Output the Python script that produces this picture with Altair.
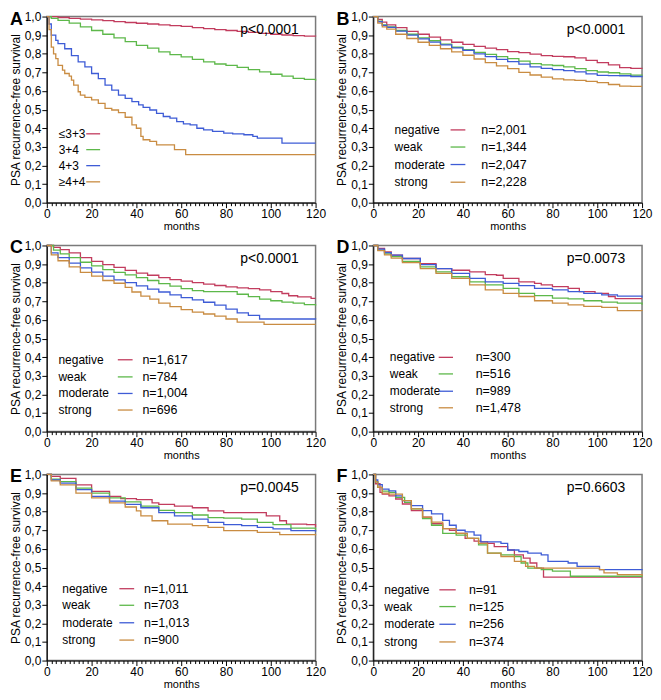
import altair as alt
import pandas as pd

FONT = "Liberation Sans"
COLORS = ["#c23c5e", "#5db84a", "#3e5cd6", "#c98c42"]
W, H = 270, 187

GROUPS = ["negative", "weak", "moderate", "strong"]
A_GROUPS = ["≤3+3", "3+4", "4+3", "≥4+4"]

# ---------------- Panel A (Gleason) ----------------
A1_T = [0, 5, 10, 15, 20, 25, 30, 35, 40, 45, 50, 55, 60, 65, 70, 75, 80, 85, 90, 95, 100, 105, 110, 115, 120]
A1_S = [1.0, 0.995, 0.99, 0.986, 0.982, 0.978, 0.973, 0.968, 0.964, 0.96, 0.955, 0.951, 0.947, 0.941,
        0.935, 0.93, 0.925, 0.92, 0.915, 0.91, 0.905, 0.901, 0.898, 0.895, 0.893]
A2_T = [0, 2, 5, 10, 15, 20, 25, 30, 35, 40, 45, 50, 55, 60, 65, 70, 75, 80, 85, 90, 95, 100, 105, 110, 115, 120]
A2_S = [1.0, 0.99, 0.98, 0.965, 0.945, 0.925, 0.905, 0.885, 0.865, 0.845, 0.83, 0.81, 0.795, 0.783, 0.77,
        0.756, 0.745, 0.738, 0.727, 0.715, 0.703, 0.69, 0.68, 0.668, 0.663, 0.655]
A3_T = [0, 1, 2, 4, 5, 8, 11, 14, 17, 20, 23, 26, 29, 32, 35, 38, 41, 43, 46, 49, 52, 55, 58, 61, 64, 67,
        70, 74, 79, 83, 88, 92, 94, 105, 120]
A3_S = [1.0, 0.96, 0.9, 0.872, 0.854, 0.827, 0.79, 0.756, 0.73, 0.694, 0.667, 0.632, 0.605, 0.578, 0.56,
        0.543, 0.525, 0.512, 0.498, 0.48, 0.463, 0.454, 0.436, 0.423, 0.418, 0.4, 0.391, 0.383, 0.374,
        0.37, 0.365, 0.356, 0.347, 0.32, 0.32]
A4_T = [0, 1, 2, 3, 4, 5, 7, 8, 10, 11, 12, 14, 15, 17, 20, 23, 26, 29, 32, 35, 38, 40, 42, 43, 46, 49,
        57, 62, 120]
A4_S = [1.0, 0.93, 0.836, 0.8, 0.774, 0.738, 0.712, 0.694, 0.68, 0.658, 0.632, 0.596, 0.578, 0.566, 0.552,
        0.534, 0.507, 0.498, 0.484, 0.459, 0.418, 0.4, 0.356, 0.338, 0.329, 0.311, 0.285, 0.258, 0.258]

# ---------------- Panel B ----------------
B_T = [0, 2, 4, 6, 10, 15, 20, 25, 30, 35, 40, 45, 50, 55, 60, 65, 70, 75, 80, 85, 90, 95, 100, 105, 110, 115, 120]
B1_S = [1.0, 0.985, 0.97, 0.955, 0.94, 0.92, 0.905, 0.89, 0.875, 0.862, 0.85, 0.84, 0.83, 0.822, 0.812,
        0.806, 0.798, 0.79, 0.786, 0.784, 0.778, 0.765, 0.752, 0.74, 0.726, 0.722, 0.72]
B2_S = [1.0, 0.975, 0.955, 0.945, 0.925, 0.905, 0.885, 0.87, 0.852, 0.835, 0.822, 0.808, 0.797, 0.785,
        0.774, 0.76, 0.747, 0.74, 0.737, 0.73, 0.72, 0.71, 0.702, 0.698, 0.692, 0.685, 0.682]
B3_S = [1.0, 0.972, 0.953, 0.942, 0.922, 0.9, 0.88, 0.863, 0.848, 0.832, 0.818, 0.8, 0.785, 0.77, 0.758,
        0.744, 0.73, 0.722, 0.715, 0.71, 0.703, 0.692, 0.684, 0.683, 0.682, 0.678, 0.674]
B4_S = [1.0, 0.965, 0.945, 0.932, 0.905, 0.882, 0.862, 0.845, 0.827, 0.81, 0.792, 0.772, 0.752, 0.735,
        0.72, 0.7, 0.686, 0.675, 0.665, 0.66, 0.657, 0.652, 0.645, 0.635, 0.626, 0.625, 0.625]

# ---------------- Panel C ----------------
C1_T = [0, 3, 6, 10, 15, 20, 25, 30, 35, 40, 45, 50, 55, 60, 65, 70, 75, 80, 85, 90, 95, 100, 105, 108, 112, 118, 120]
C1_S = [1.0, 0.99, 0.978, 0.96, 0.935, 0.915, 0.897, 0.882, 0.866, 0.852, 0.84, 0.827, 0.817, 0.808, 0.8,
        0.792, 0.785, 0.778, 0.772, 0.768, 0.762, 0.752, 0.742, 0.73, 0.724, 0.716, 0.716]
C2_T = [0, 3, 6, 10, 15, 20, 25, 30, 35, 40, 45, 50, 55, 60, 65, 70, 85, 90, 95, 100, 105, 110, 115, 120]
C2_S = [1.0, 0.975, 0.955, 0.935, 0.91, 0.89, 0.87, 0.855, 0.842, 0.827, 0.812, 0.795, 0.782, 0.768, 0.758,
        0.752, 0.738, 0.725, 0.712, 0.703, 0.696, 0.69, 0.682, 0.676]
C3_T = [0, 2, 5, 10, 15, 20, 25, 30, 35, 40, 45, 50, 55, 60, 65, 70, 75, 80, 85, 90, 95, 120]
C3_S = [1.0, 0.96, 0.935, 0.905, 0.88, 0.857, 0.835, 0.815, 0.8, 0.783, 0.765, 0.75, 0.735, 0.72, 0.708,
        0.695, 0.68, 0.658, 0.638, 0.625, 0.605, 0.603]
C4_T = [0, 2, 5, 10, 15, 20, 25, 30, 35, 38, 42, 46, 50, 55, 60, 65, 70, 75, 80, 85, 97, 120]
C4_S = [1.0, 0.95, 0.918, 0.885, 0.855, 0.835, 0.812, 0.797, 0.775, 0.75, 0.728, 0.712, 0.69, 0.672, 0.655,
        0.642, 0.632, 0.62, 0.605, 0.588, 0.576, 0.576]

# ---------------- Panel D ----------------
D1_T = [0, 2, 5, 8, 13, 21, 28, 35, 43, 50, 55, 58, 65, 72, 75, 80, 87, 92, 99, 105, 108, 120]
D1_S = [1.0, 0.985, 0.965, 0.948, 0.93, 0.903, 0.876, 0.867, 0.858, 0.844, 0.84, 0.823, 0.805, 0.796,
        0.788, 0.779, 0.77, 0.752, 0.743, 0.726, 0.715, 0.715]
D_T = [0, 2, 5, 8, 13, 21, 28, 35, 43, 50, 58, 65, 72, 80, 87, 94, 102, 109, 120]
D3_S = [1.0, 0.98, 0.962, 0.948, 0.93, 0.897, 0.876, 0.85, 0.823, 0.805, 0.796, 0.784, 0.77, 0.761, 0.752,
        0.743, 0.735, 0.728, 0.72]
D2_S = [1.0, 0.975, 0.955, 0.94, 0.915, 0.885, 0.858, 0.832, 0.805, 0.788, 0.77, 0.743, 0.731, 0.717,
        0.713, 0.703, 0.696, 0.69, 0.682]
D4_S = [1.0, 0.972, 0.95, 0.932, 0.908, 0.876, 0.85, 0.823, 0.788, 0.761, 0.743, 0.726, 0.703, 0.69,
        0.681, 0.673, 0.667, 0.65, 0.648]

# ---------------- Panel E ----------------
E1_T = [0, 2, 6, 13, 20, 28, 33, 40, 47, 50, 57, 65, 72, 79, 98, 104, 107, 116, 120]
E1_S = [1.0, 0.99, 0.979, 0.944, 0.909, 0.882, 0.87, 0.865, 0.847, 0.839, 0.83, 0.821, 0.804, 0.795,
        0.777, 0.751, 0.733, 0.73, 0.716]
E_T = [0, 2, 6, 13, 20, 28, 35, 42, 50, 57, 65, 72, 79, 87, 94, 101, 109, 120]
E2_S = [1.0, 0.975, 0.961, 0.926, 0.9, 0.874, 0.853, 0.83, 0.807, 0.795, 0.782, 0.768, 0.765, 0.76, 0.742,
        0.73, 0.712, 0.698]
E3_S = [1.0, 0.97, 0.953, 0.918, 0.882, 0.856, 0.839, 0.821, 0.795, 0.777, 0.76, 0.742, 0.73, 0.725,
        0.716, 0.707, 0.698, 0.692]
E4_T = [0, 2, 6, 13, 20, 28, 35, 40, 42, 47, 54, 65, 72, 79, 94, 104, 120]
E4_S = [1.0, 0.965, 0.944, 0.9, 0.874, 0.847, 0.825, 0.804, 0.777, 0.751, 0.733, 0.725, 0.716, 0.698,
        0.689, 0.677, 0.672]

# ---------------- Panel F ----------------
F1_T = [0, 1, 3, 4, 7, 10, 13, 17, 22, 26, 31, 34, 37, 41, 45, 48, 51, 54, 60, 63, 67, 70, 73, 76, 120]
F1_S = [1.0, 0.95, 0.903, 0.894, 0.885, 0.868, 0.841, 0.806, 0.771, 0.735, 0.709, 0.7, 0.683, 0.656,
        0.642, 0.638, 0.63, 0.612, 0.594, 0.568, 0.55, 0.524, 0.497, 0.448, 0.448]
F2_T = [0, 1, 2, 4, 7, 10, 14, 17, 22, 26, 31, 37, 42, 47, 51, 57, 63, 66, 69, 75, 80, 88, 120]
F2_S = [1.0, 0.96, 0.93, 0.91, 0.903, 0.877, 0.85, 0.815, 0.762, 0.727, 0.683, 0.674, 0.656, 0.621, 0.577,
        0.568, 0.559, 0.524, 0.497, 0.489, 0.48, 0.453, 0.45]
F3_T = [0, 1, 2, 4, 7, 10, 13, 17, 22, 26, 31, 34, 37, 41, 45, 48, 57, 60, 65, 69, 75, 78, 87, 91, 101, 120]
F3_S = [1.0, 0.97, 0.945, 0.921, 0.912, 0.885, 0.859, 0.832, 0.806, 0.788, 0.753, 0.727, 0.7, 0.691, 0.674,
        0.638, 0.63, 0.594, 0.586, 0.577, 0.568, 0.533, 0.524, 0.506, 0.489, 0.485]
F4_T = [0, 1, 2, 4, 7, 13, 17, 22, 26, 31, 37, 42, 47, 51, 57, 63, 68, 72, 101, 103, 109, 120]
F4_S = [1.0, 0.96, 0.93, 0.9, 0.894, 0.859, 0.815, 0.771, 0.744, 0.709, 0.683, 0.656, 0.63, 0.577, 0.559,
        0.533, 0.506, 0.497, 0.489, 0.471, 0.462, 0.455]

N_B = ["n=2,001", "n=1,344", "n=2,047", "n=2,228"]
N_C = ["n=1,617", "n=784", "n=1,004", "n=696"]
N_D = ["n=300", "n=516", "n=989", "n=1,478"]
N_E = ["n=1,011", "n=703", "n=1,013", "n=900"]
N_F = ["n=91", "n=125", "n=256", "n=374"]

P_VALUES = ["p<0,0001", "p<0.0001", "p<0.0001", "p=0.0073", "p=0.0045", "p=0.6603"]

X_TICKS = list(range(0, 121, 2))
Y_TICKS = [round(i / 10, 1) for i in range(11)]


def x_axis():
    return alt.Axis(
        title="months", values=X_TICKS,
        labelExpr="datum.value % 20 == 0 ? datum.label : ''",
        tickSize={"condition": {"test": "datum.value % 20 == 0", "value": 5}, "value": 3},
        grid=False, labelOverlap=False, labelFlush=False, labelPadding=1,
        labelFontSize=12, titleFontSize=11, titlePadding=1,
        domainColor="#000000", tickColor="#000000", labelColor="#000000", titleColor="#000000",
        titleFontWeight="normal", labelFont=FONT, titleFont=FONT,
    )


def y_axis():
    return alt.Axis(
        title="PSA recurrence-free survival", values=Y_TICKS,
        labelExpr="replace(format(datum.value, '.1f'), '.', ',')",
        tickSize=5, grid=False, labelOverlap=False, labelBound=False, labelFlush=False, labelPadding=1,
        labelFontSize=12, titleFontSize=12, titlePadding=2,
        domainColor="#000000", tickColor="#000000", labelColor="#000000", titleColor="#000000",
        titleFontWeight="normal", labelFont=FONT, titleFont=FONT,
    )


XS = alt.Scale(domain=[0, 120], nice=False, zero=True)
YS = alt.Scale(domain=[0, 1], nice=False)


def X(field):
    return alt.X(field, scale=XS, axis=x_axis())


def Y(field):
    return alt.Y(field, scale=YS, axis=y_axis())


def panel(letter, names, ts, ss, ns, pval, lx, lr, nx, rows):
    recs = []
    for name, t, s in zip(names, ts, ss):
        for ti, si in zip(t, s):
            recs.append({"group": name, "t": ti, "s": si})
    df = pd.DataFrame(recs)
    color = alt.Color("group:N", scale=alt.Scale(domain=names, range=COLORS), legend=None)

    lines = alt.Chart(df).mark_line(interpolate="step-after", strokeWidth=1.3).encode(
        x=X("t:Q"), y=Y("s:Q"), color=color, order="t:Q",
    )
    leg = pd.DataFrame({
        "group": names, "ly": rows, "lx": [lx] * 4, "lx1": [lr[0]] * 4, "lx2": [lr[1]] * 4,
        "nx": [nx] * 4, "n": ns if ns else [""] * 4,
    })
    leg_text = alt.Chart(leg).mark_text(align="left", baseline="middle", fontSize=12, color="#000").encode(
        x=X("lx:Q"), y=Y("ly:Q"), text="group:N")
    leg_rule = alt.Chart(leg).mark_rule(strokeWidth=1.3).encode(
        x=X("lx1:Q"), x2="lx2:Q", y=Y("ly:Q"), color=color)
    layers = [lines, leg_text, leg_rule]
    if ns:
        layers.append(alt.Chart(leg).mark_text(align="left", baseline="middle", fontSize=12.5, color="#000").encode(
            x=X("nx:Q"), y=Y("ly:Q"), text="n:N"))
    ptxt = alt.Chart(pd.DataFrame({"p": [pval], "px": [112.5], "py": [0.925]})).mark_text(
        align="right", baseline="middle", fontSize=14, color="#000").encode(
        x=X("px:Q"), y=Y("py:Q"), text="p:N")
    let = alt.Chart(pd.DataFrame({"L": [letter]})).mark_text(
        align="left", baseline="middle", fontSize=18, fontWeight="bold", color="#000").encode(
        x=alt.value(-37), y=alt.value(3), text="L:N")
    layers += [ptxt, let]
    return alt.layer(*layers).properties(width=W, height=H)


pA = panel("A", A_GROUPS, [A1_T, A2_T, A3_T, A4_T], [A1_S, A2_S, A3_S, A4_S], None, P_VALUES[0],
           5.3, (17.6, 23.8), 0, [0.37, 0.285, 0.199, 0.112])
pB = panel("B", GROUPS, [B_T] * 4, [B1_S, B2_S, B3_S, B4_S], N_B, P_VALUES[1],
           9.5, (34.5, 41.1), 48.2, [0.391, 0.299, 0.205, 0.11])
pC = panel("C", GROUPS, [C1_T, C2_T, C3_T, C4_T], [C1_S, C2_S, C3_S, C4_S], N_C, P_VALUES[2],
           5.2, (31.7, 38.3), 42.7, [0.386, 0.294, 0.205, 0.116])
pD = panel("D", GROUPS, [D1_T, D_T, D_T, D_T], [D1_S, D2_S, D3_S, D4_S], N_D, P_VALUES[3],
           7.4, (29.2, 35.6), 45.7, [0.399, 0.31, 0.217, 0.128])
pE = panel("E", GROUPS, [E1_T, E_T, E_T, E4_T], [E1_S, E2_S, E3_S, E4_S], N_E, P_VALUES[4],
           6.9, (32.4, 39.0), 43.4, [0.386, 0.297, 0.203, 0.11])
pF = panel("F", GROUPS, [F1_T, F2_T, F3_T, F4_T], [F1_S, F2_S, F3_S, F4_S], N_F, P_VALUES[5],
           4.9, (29.5, 36.8), 42.7, [0.38, 0.29, 0.195, 0.1])

chart = alt.vconcat(
    alt.hconcat(pA, pB, spacing=8),
    alt.hconcat(pC, pD, spacing=8),
    alt.hconcat(pE, pF, spacing=8),
    spacing=6,
).properties(padding=0).configure_view(
    stroke="#7a7a7a", strokeWidth=1.5
).configure_axis(
    labelFont=FONT, titleFont=FONT, domainWidth=1, tickWidth=1
).configure_text(font=FONT)

chart.save("out.html", embed_options={"renderer": "svg", "actions": False})
